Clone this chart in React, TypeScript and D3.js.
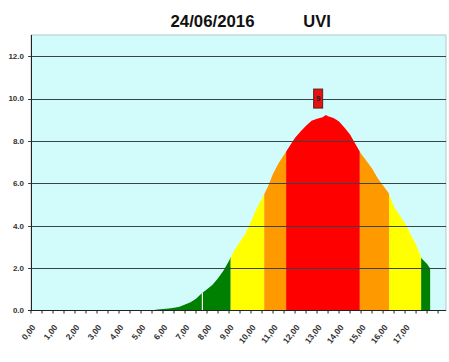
import React from "react";
import * as d3 from "d3";

const title = "24/06/2016";
const subtitle = "UVI";

// UV index readings (hour of day, value)
const hours = [
  5.6, 5.75, 6.0, 6.25, 6.5, 6.75, 7.0, 7.25, 7.5, 7.75, 8.0, 8.25, 8.5, 8.75,
  9.0, 9.25, 9.5, 9.75, 10.0, 10.25, 10.5, 10.75, 11.0, 11.25, 11.5, 11.75,
  12.0, 12.25, 12.5, 12.75, 13.0, 13.25, 13.4, 13.5, 13.75, 14.0, 14.25, 14.5,
  14.75, 15.0, 15.25, 15.5, 15.75, 16.0, 16.25, 16.5, 16.75, 17.0, 17.25, 17.5,
  17.75, 18.0, 18.15,
];
const uvi = [
  0.02, 0.05, 0.07, 0.1, 0.13, 0.18, 0.28, 0.39, 0.55, 0.8, 1.0, 1.22, 1.52,
  1.89, 2.35, 2.85, 3.25, 3.65, 4.2, 4.8, 5.3, 5.8, 6.45, 6.95, 7.35, 7.75,
  8.15, 8.45, 8.72, 8.95, 9.05, 9.12, 9.22, 9.17, 9.08, 8.92, 8.62, 8.3, 7.85,
  7.4, 7.05, 6.7, 6.25, 5.9, 5.55, 4.9, 4.5, 4.1, 3.6, 3.1, 2.45, 2.2, 1.97,
];
const missingHours = [7.79];

const levelLimits = [2.5, 5.5, 7.5];
const levelColors = ["#008000", "#ffff00", "#ff9900", "#ff0000"];

const maxHour = 13.05;
const maxLabelValue = 10;
const maxLabel = "9";

const yTicks = [0, 2, 4, 6, 8, 10, 12];
const xLabelHours = d3.range(0, 18);

const W = 449;
const H = 362;
const left = 31;
const right = 446;
const top = 35;
const bottom = 310.5;

const font = "'Liberation Sans', Arial, sans-serif";

const App = () => {
  const x = d3.scaleLinear().domain([0, 18.86]).range([left, right]);
  const y = d3.scaleLinear().domain([0, 13]).range([bottom, top]);

  const pts = hours.map((h, i) => ({ h, v: uvi[i] }));

  const area = d3
    .area<{ h: number; v: number }>()
    .curve(d3.curveLinear)
    .x((d) => x(d.h))
    .y0(y(0))
    .y1((d) => y(d.v));

  const level = (v: number) => levelLimits.filter((t) => v >= t).length;

  // colour bands along the curve, split where the value crosses a limit
  const bands: { from: number; to: number; color: string }[] = [];
  let start = pts[0].h;
  let cur = level(pts[0].v);
  for (let i = 1; i < pts.length; i++) {
    const a = pts[i - 1];
    const b = pts[i];
    const lv = level(b.v);
    if (lv !== cur) {
      const t = lv > cur ? levelLimits[cur] : levelLimits[lv];
      const hc = a.h + ((t - a.v) / (b.v - a.v)) * (b.h - a.h);
      bands.push({ from: start, to: hc, color: levelColors[cur] });
      start = hc;
      cur = lv;
    }
  }
  bands.push({ from: start, to: pts[pts.length - 1].h, color: levelColors[cur] });

  const valueAt = (h: number) => {
    const i = d3.bisector((d: { h: number }) => d.h).left(pts, h);
    const a = pts[i - 1];
    const b = pts[i];
    return a.v + ((h - a.h) / (b.h - a.h)) * (b.v - a.v);
  };

  const minorTicks = d3.range(0, 18.9, 0.5);

  return (
    <svg width={W} height={H} style={{ position: "absolute", left: 0, top: 0 }}>
      <rect width={W} height={H} fill="#fff" />
      <text x={170.5} y={26.7} fontFamily={font} fontWeight="bold" fontSize={16.8} fill="#111">
        {title}
      </text>
      <text x={303.3} y={26.7} fontFamily={font} fontWeight="bold" fontSize={16.5} fill="#111">
        {subtitle}
      </text>

      <rect x={left} y={top} width={right - left} height={bottom - top} fill="#d2fcfc" stroke="#b4c8c8" strokeWidth={1} />

      <defs>
        <clipPath id="uvArea">
          <path d={area(pts) || ""} />
        </clipPath>
      </defs>
      <g clipPath="url(#uvArea)">
        {bands.map((b, i) => (
          <rect key={i} x={x(b.from)} y={top} width={x(b.to) - x(b.from)} height={bottom - top} fill={b.color} />
        ))}
      </g>
      {missingHours.map((h) => (
        <line key={h} x1={x(h)} x2={x(h)} y1={y(0)} y2={y(valueAt(h))} stroke="#fff" strokeWidth={1.2} />
      ))}

      {yTicks.filter((t) => t > 0).map((t) => (
        <line key={t} x1={left - 3} x2={right} y1={Math.round(y(t)) + 0.5} y2={Math.round(y(t)) + 0.5} stroke="#3a4444" strokeWidth={1} />
      ))}
      {yTicks.map((t) => (
        <text key={t} x={24} y={y(t)} dy="0.35em" textAnchor="end" fontFamily={font} fontWeight="bold" fontSize={8} fill="#333">
          {t.toFixed(1)}
        </text>
      ))}

      <line x1={left + 0.5} x2={left + 0.5} y1={top} y2={bottom} stroke="#222" strokeWidth={1} />
      <line x1={left - 3} x2={right} y1={bottom} y2={bottom} stroke="#222" strokeWidth={1.2} />
      {minorTicks.map((h) => (
        <line key={h} x1={x(h)} x2={x(h)} y1={bottom} y2={bottom + 3} stroke="#222" strokeWidth={1} />
      ))}
      {xLabelHours.map((h) => (
        <text
          key={h}
          transform={`translate(${x(h) + 5},${bottom + 17}) rotate(-52)`}
          textAnchor="end"
          fontFamily={font}
          fontWeight="bold"
          fontSize={8.5}
          fill="#333"
        >
          {`${h},00`}
        </text>
      ))}

      <rect x={x(maxHour) - 4.5} y={y(maxLabelValue) - 9.5} width={9} height={19} fill="#e81010" stroke="#552222" strokeWidth={1} />
      <text x={x(maxHour)} y={y(maxLabelValue)} dy="0.35em" textAnchor="middle" fontFamily={font} fontWeight="bold" fontSize={8} fill="#222">
        {maxLabel}
      </text>
    </svg>
  );
};

export default App;
